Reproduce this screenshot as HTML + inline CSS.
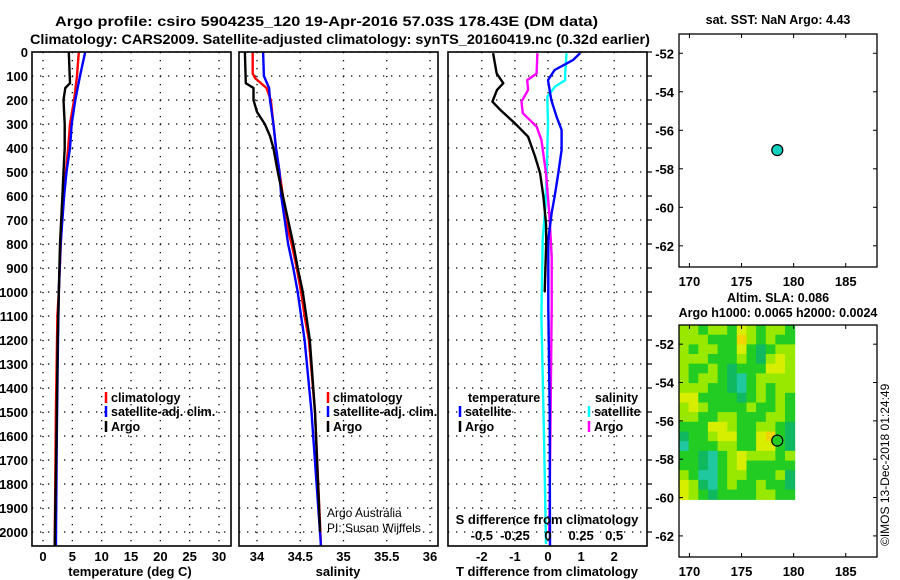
<!DOCTYPE html>
<html><head><meta charset="utf-8"><style>
html,body{margin:0;padding:0;background:#fff;}
svg{display:block;font-family:"Liberation Sans",sans-serif;}
.b{font-weight:bold;}
</style></head><body>
<svg id="chart" width="900" height="580" viewBox="0 0 900 580"></svg>
<script>
// ---------- data ----------
const depthTicks=[0,100,200,300,400,500,600,700,800,900,1000,1100,1200,1300,1400,1500,1600,1700,1800,1900,2000];
const tempTicks=[0,5,10,15,20,25,30];
const salTicks=[34,34.5,35,35.5,36];
const tdiffTicks=[-2,-1,0,1,2];
const sdiffTicks=[-0.5,-0.25,0,0.25,0.5];
const sdiffLabels=["-0.5","-0.25","0","0.25","0.5"];
const lonTicks=[170,175,180,185];
const latTicks=[-52,-54,-56,-58,-60,-62];

const tClimDepth=[0,100,200,300,400,500,700,1000,1100,1500,2060];
const tClim=[6.1,5.8,5.3,4.6,4.3,3.9,3.2,2.7,2.45,2.2,2.0];
const tSatDepth=[0,100,200,300,400,500,600,700,800,1000,1200,1600,2060];
const tSat=[7.2,6.3,5.5,4.9,4.6,4.0,3.6,3.3,3.0,2.7,2.55,2.35,2.2];
const tArgoDepth=[0,130,150,200,300,400,500,600,800,1000,1200,1600,2060];
const tArgo=[4.4,4.6,3.8,3.5,3.7,3.7,3.5,3.3,2.9,2.7,2.5,2.3,2.0];

const sClimDepth=[0,90,110,150,200,300,400,500,600,700,800,900,1000,1100,1200,1500,2060];
const sClim=[33.95,33.95,33.98,34.11,34.16,34.19,34.22,34.26,34.30,34.33,34.40,34.46,34.51,34.55,34.60,34.67,34.74];
const sSatDepth=[0,100,150,200,300,400,500,600,700,800,900,1000,1100,1200,1500,2060];
const sSat=[34.07,34.08,34.14,34.15,34.19,34.22,34.26,34.28,34.32,34.36,34.42,34.47,34.51,34.55,34.63,34.74];
const sArgoDepth=[0,130,150,200,250,300,350,400,500,600,700,800,900,1000,1100,1200,1500,2000];
const sArgo=[33.86,33.87,33.96,33.96,34.0,34.09,34.15,34.19,34.24,34.30,34.36,34.42,34.47,34.53,34.57,34.61,34.67,34.73];

const dtArgoDepth=[5,90,130,158,207,240,297,353,436,505,603,714,783,1000];
const dtArgo=[-1.66,-1.55,-1.35,-1.54,-1.68,-1.45,-1.0,-0.6,-0.39,-0.24,-0.14,-0.06,-0.05,-0.1];
const dtSatDepth=[5,33,75,117,200,270,325,408,505,603,672,783,1061,1500,2060];
const dtSat=[0.97,0.76,0.2,0.0,0.1,0.26,0.41,0.41,0.31,0.2,0.11,0.01,0.01,0.05,0.06];
const dsSatDepth=[5,90,117,144,186,297,505,644,783,1100,1600,2050];
const dsSat=[0.14,0.13,0.13,0.053,-0.005,0.0,-0.01,-0.02,-0.04,-0.05,-0.03,-0.015];
const dsArgoDepth=[5,90,117,158,207,255,311,366,505,672,853,1061,1500,2000];
const dsArgo=[-0.08,-0.086,-0.157,-0.15,-0.2,-0.19,-0.086,-0.05,-0.015,0.01,0.028,0.028,0.02,0.01];

const floatLon=178.43, floatLat=-57.03;
const slaLonStart=169, slaLatStart=-51, slaLonStep=0.925, slaLatStep=0.505;
const slaGrid=[
[3,3,2,3,3,2,4,3,2,3,3,2],
[3,3,3,2,2,2,5,3,2,3,2,2],
[3,2,3,3,2,2,4,2,1,2,3,3],
[3,3,3,2,2,2,3,2,1,3,4,3],
[3,2,2,3,2,1,2,2,2,4,4,3],
[3,2,3,3,2,1,0,2,3,3,3,3],
[3,3,3,2,2,1,0,2,3,2,3,3],
[4,4,2,2,2,2,1,2,3,2,3,2],
[3,4,3,2,2,2,2,3,2,2,3,2],
[3,3,2,2,3,3,2,2,2,3,3,2],
[2,2,2,4,4,3,2,2,3,3,2,1],
[1,2,2,3,4,4,2,2,4,5,2,1],
[0,2,2,2,3,3,2,2,4,4,2,1],
[2,2,1,0,2,3,4,3,3,3,2,3],
[2,2,1,0,2,3,4,2,2,2,2,2],
[3,2,0,0,2,3,3,2,2,2,3,1],
[4,3,1,0,2,3,2,2,3,2,2,1],
[4,3,2,1,2,2,2,2,3,3,2,2]];
const slaColors=["#20c8a0","#10b860","#22cc22","#99e800","#d8ee00","#f0d400"];

// ---------- helpers ----------
const NS="http://www.w3.org/2000/svg";
const svg=document.getElementById('chart');
function mk(tag,attrs,parent){const e=document.createElementNS(NS,tag);for(const k in attrs)e.setAttribute(k,attrs[k]);(parent||svg).appendChild(e);return e;}
function txt(s,x,y,attrs,parent){const e=mk('text',Object.assign({x:x,y:y},attrs||{}),parent);e.textContent=s;return e;}
const Y0=52, PY=0.24;
const yD=d=>Y0+d*PY;
const PB=546;
function lin(d0,d1,r0,r1){return v=>r0+(v-d0)*(r1-r0)/(d1-d0);}

function panel(name,x0,x1,xs,xt,labels){
  const g=mk('g',{});
  
  
  depthTicks.forEach(d=>{const l=mk('line',{x1:x0,x2:x1,y1:yD(d),y2:yD(d),stroke:'#000','stroke-width':1.3,'stroke-dasharray':'1.3,6.7'},g);
    
    });
  xt.forEach(v=>{const l=mk('line',{x1:xs(v),x2:xs(v),y1:Y0,y2:PB,stroke:'#000','stroke-width':1.3,'stroke-dasharray':'1.3,6.7'},g);
    
    });
  xt.forEach((v,i)=>{const t=txt(labels?labels[i]:String(v),xs(v),561,{'text-anchor':'middle','font-size':13,class:'b'},g);
    
    });
  return g;
}
function frame(x0,x1,name){const r=mk('rect',{x:x0,y:Y0,width:x1-x0,height:PB-Y0,fill:'none',stroke:'#000','stroke-width':1.6});
  
  }
function series(name,depths,vals,xs,color){
  let p='';depths.forEach((d,i)=>{p+=(i?'L':'M')+xs(vals[i]).toFixed(1)+','+yD(d).toFixed(1);});
  const e=mk('path',{d:p,fill:'none',stroke:color,'stroke-width':2.4,'stroke-linejoin':'round'});
  
  
}
function legend(name,x,y,color,label){
  const g=mk('g',{});
  
  
  if(color) mk('line',{x1:x,x2:x,y1:y-10,y2:y+1,stroke:color,'stroke-width':2.5},g);
  txt(label,x+(color?5:0),y,{'font-size':12.5,class:'b'},g);
}

// titles
let t=txt("Argo profile: csiro 5904235_120 19-Apr-2016 57.03S 178.43E (DM data)",55,26,{'font-size':14,class:'b',textLength:543,lengthAdjust:'spacingAndGlyphs'});


t=txt("Climatology: CARS2009. Satellite-adjusted climatology: synTS_20160419.nc (0.32d earlier)",30,44,{'font-size':14,class:'b',textLength:620,lengthAdjust:'spacingAndGlyphs'});



depthTicks.forEach(d=>{const e=txt(String(d),28,yD(d)+5,{'text-anchor':'end','font-size':13,class:'b'});
  
  });

// panel 1 temperature
const xT=lin(0,30,43,219);
panel('temperature-panel',32,231,xT,tempTicks);
series('temperature-climatology',tClimDepth,tClim,xT,'#f00');
series('temperature-satellite-adj',tSatDepth,tSat,xT,'#00f');
series('temperature-argo',tArgoDepth,tArgo,xT,'#000');
frame(32,231,'temperature-plot-frame');
t=txt("temperature (deg C)",130,576,{'text-anchor':'middle','font-size':13,class:'b'});


legend('legend-climatology',106,402,'#f00','climatology');
legend('legend-satellite-adj',106,416,'#00f','satellite-adj. clim.');
legend('legend-argo',106,431,'#000','Argo');

// panel 2 salinity
const xS=lin(34,36,257,430);
panel('salinity-panel',239,438,xS,salTicks);
series('salinity-climatology',sClimDepth,sClim,xS,'#f00');
series('salinity-satellite-adj',sSatDepth,sSat,xS,'#00f');
series('salinity-argo',sArgoDepth,sArgo,xS,'#000');
frame(239,438,'salinity-plot-frame');
t=txt("salinity",338,576,{'text-anchor':'middle','font-size':13,class:'b'});


legend('legend-sal-climatology',328,402,'#f00','climatology');
legend('legend-sal-satellite-adj',328,416,'#00f','satellite-adj. clim.');
legend('legend-sal-argo',328,431,'#000','Argo');
t=txt("Argo Australia",327,517,{'font-size':12});


t=txt("PI: Susan Wijffels",327,532,{'font-size':12});



// panel 3 differences
const xDT=lin(0,1,548,581.1);
const xDS=v=>xDT(v*4);
panel('difference-panel',448,647,xDT,tdiffTicks);
series('salinity-diff-satellite',dsSatDepth,dsSat,xDS,'#0ff');
series('salinity-diff-argo',dsArgoDepth,dsArgo,xDS,'#f0f');
series('temperature-diff-satellite',dtSatDepth,dtSat,xDT,'#00f');
series('temperature-diff-argo',dtArgoDepth,dtArgo,xDT,'#000');
frame(448,647,'difference-plot-frame');
depthTicks.forEach(d=>{const l=mk('line',{x1:647,x2:652,y1:yD(d),y2:yD(d),stroke:'#000','stroke-width':1.2});
  
  });
t=txt("T difference from climatology",547,576,{'text-anchor':'middle','font-size':13,class:'b'});


t=txt("S difference from climatology",547,524,{'text-anchor':'middle','font-size':13,class:'b'});


sdiffTicks.forEach((v,i)=>{const e=txt(sdiffLabels[i],xDS(v),540,{'text-anchor':'middle','font-size':13,class:'b'});
  
  });
legend('legend-temperature-header',468,402,null,'temperature');
legend('legend-t-satellite',460,416,'#00f','satellite');
legend('legend-t-argo',460,431,'#000','Argo');
legend('legend-salinity-header',595,402,null,'salinity');
legend('legend-s-satellite',589,416,'#0ff','satellite');
legend('legend-s-argo',589,431,'#f0f','Argo');

// maps
const mX=lin(169,188,679,877);
function map(name,top,bottom,title1,title2,withSla,dotColor){
  const g=mk('g',{});
  
  
  const mY=lin(-51,-63.1,top,bottom);
  if(withSla){
    slaGrid.forEach((row,r)=>row.forEach((v,c)=>{
      const x0=mX(slaLonStart+c*slaLonStep), x1=mX(slaLonStart+(c+1)*slaLonStep);
      const y0=mY(slaLatStart-r*slaLatStep), y1=mY(slaLatStart-(r+1)*slaLatStep);
      const cell=mk('rect',{x:x0.toFixed(1),y:y0.toFixed(1),width:(x1-x0+0.6).toFixed(1),height:(y1-y0+0.6).toFixed(1),fill:slaColors[v]},g);
      
      
    }));
  }
  mk('rect',{x:679,y:top,width:198,height:bottom-top,fill:'none',stroke:'#000','stroke-width':1.3},g);
  lonTicks.forEach(v=>{mk('line',{x1:mX(v),x2:mX(v),y1:top,y2:top+4,stroke:'#000'},g);
    mk('line',{x1:mX(v),x2:mX(v),y1:bottom,y2:bottom-4,stroke:'#000'},g);
    const e=txt(String(v),mX(v),bottom+19,{'text-anchor':'middle','font-size':13,class:'b'},g);
    
    });
  latTicks.forEach(v=>{mk('line',{x1:679,x2:683,y1:mY(v),y2:mY(v),stroke:'#000'},g);
    mk('line',{x1:877,x2:873,y1:mY(v),y2:mY(v),stroke:'#000'},g);
    const e=txt(String(v),674,mY(v)+5,{'text-anchor':'end','font-size':13,class:'b'},g);
    
    });
  const dot=mk('circle',{cx:mX(floatLon),cy:mY(floatLat),r:5.5,fill:dotColor,stroke:'#000','stroke-width':1.2},g);
  
  
  let a=txt(title1,778,title2?top-23:top-10,{'text-anchor':'middle','font-size':12.5,class:'b'},g);
  
  
  if(title2){a=txt(title2,778,top-8,{'text-anchor':'middle','font-size':12.5,class:'b'},g);
    
    }
}
map('sst-map',34,267,'sat. SST: NaN Argo: 4.43',null,false,'#10d0c0');
map('sla-map',325,557,'Altim. SLA: 0.086','Argo h1000: 0.0065 h2000: 0.0024',true,'#22cc22');

t=txt("©IMOS 13-Dec-2018 01:24:49",0,0,{'font-size':12,transform:'translate(889,546) rotate(-90)'});


</script>
</body></html>
